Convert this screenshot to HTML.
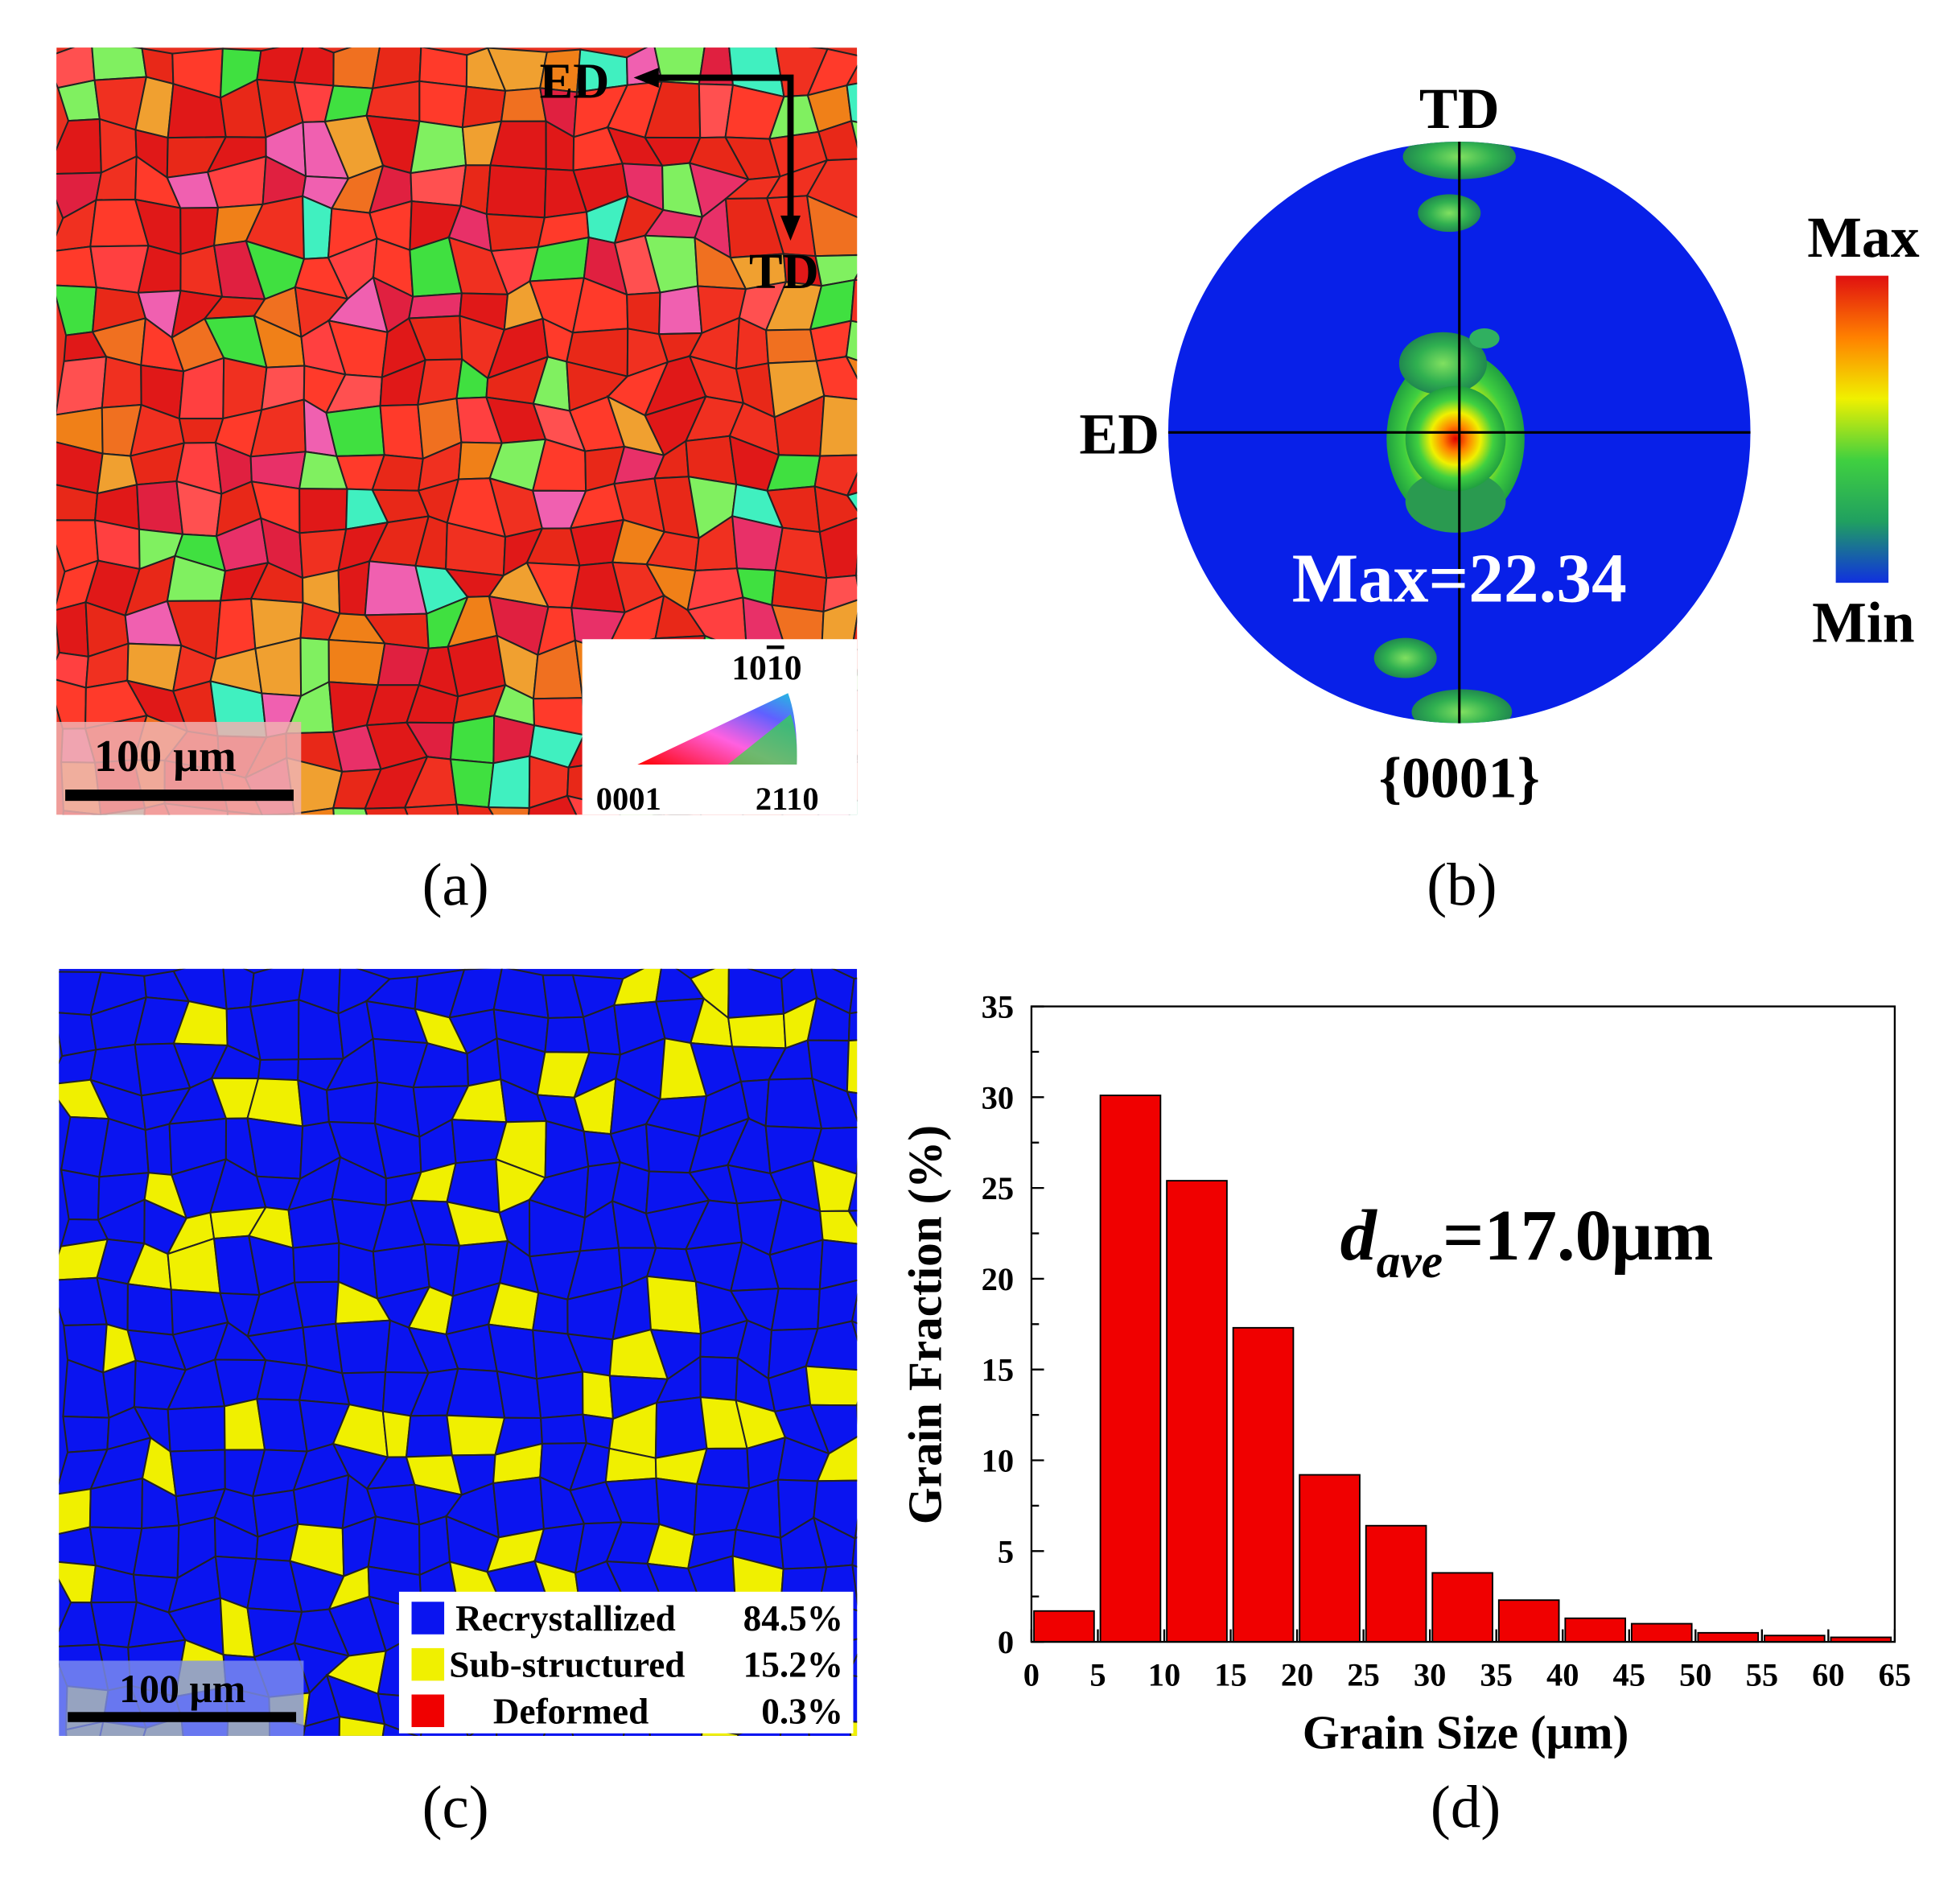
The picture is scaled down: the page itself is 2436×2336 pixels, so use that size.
<!DOCTYPE html>
<html><head><meta charset="utf-8">
<style>
html,body{margin:0;padding:0;background:#fff;}
svg{display:block;}
text{font-family:"Liberation Serif",serif;}
</style></head>
<body>
<svg id="s" width="2436" height="2336" viewBox="0 0 1562 1500" preserveAspectRatio="none" xmlns="http://www.w3.org/2000/svg">
<defs>
<radialGradient id="hot" cx="0.5" cy="0.5" r="0.5">
<stop offset="0" stop-color="#e00000"/><stop offset="0.25" stop-color="#ff8000"/><stop offset="0.5" stop-color="#f0f000"/><stop offset="0.75" stop-color="#40d040"/><stop offset="1" stop-color="#20a040"/>
</radialGradient>
<radialGradient id="grn" cx="0.5" cy="0.5" r="0.5">
<stop offset="0" stop-color="#80e060"/><stop offset="0.6" stop-color="#30b050"/><stop offset="1" stop-color="#208850"/>
</radialGradient>
<linearGradient id="cb" x1="0" y1="0" x2="0" y2="1">
<stop offset="0" stop-color="#e01010"/><stop offset="0.2" stop-color="#ff8000"/><stop offset="0.4" stop-color="#f0f000"/><stop offset="0.6" stop-color="#40d040"/><stop offset="0.8" stop-color="#20a060"/><stop offset="1" stop-color="#1030e0"/>
</linearGradient>
<linearGradient id="ipf" x1="0" y1="1" x2="1" y2="0">
<stop offset="0" stop-color="#ff0000"/><stop offset="0.45" stop-color="#ff60e0"/><stop offset="0.75" stop-color="#6060ff"/><stop offset="1" stop-color="#20c0e0"/>
</linearGradient>
<clipPath id="ca"><rect x="45" y="38" width="638" height="612"/></clipPath>
<clipPath id="cc"><rect x="47" y="773" width="636" height="612"/></clipPath>
<clipPath id="cp"><circle cx="1163" cy="345" r="232"/></clipPath>
</defs>
<g id="ga" clip-path="url(#ca)"><rect x="45" y="38" width="638" height="612" fill="#e83020"/></g>
<g id="gc" clip-path="url(#cc)"><rect x="47" y="773" width="636" height="612" fill="#0a14f0"/></g>

<g font-weight="bold" font-size="40">
<text x="430" y="78">ED</text>
<text x="597" y="230">TD</text>
</g>
<path d="M515 62 H630 V180" fill="none" stroke="#000" stroke-width="5"/>
<polygon points="505,62 525,54 525,70" fill="#000"/>
<polygon points="630,192 622,172 638,172" fill="#000"/>
<rect x="464" y="510" width="219" height="140" fill="#fff"/>
<path d="M508,610 L635,610 Q636,575 628,553 Z" fill="url(#ipf)"/>
<path d="M580,610 L635,610 Q636,585 630,570 Z" fill="#30e040" opacity="0.7"/>
<text x="583" y="542" font-size="28" font-weight="bold">10<tspan text-decoration="overline">1</tspan>0</text>
<text x="475" y="646" font-size="26" font-weight="bold">0001</text>
<text x="602" y="646" font-size="26" font-weight="bold">2110</text>
<rect x="45" y="576" width="195" height="74" fill="#f0b0b0" opacity="0.85"/>
<text x="75" y="615" font-size="36" font-weight="bold">100 μm</text>
<rect x="52" y="630" width="182" height="9" fill="#000"/>
<text x="363" y="722" font-size="48" text-anchor="middle">(a)</text>

<circle cx="1163" cy="345" r="232" fill="#0820e8"/>
<g clip-path="url(#cp)">
<ellipse cx="1160" cy="350" rx="55" ry="70" fill="url(#hot)"/>
<ellipse cx="1150" cy="290" rx="35" ry="25" fill="url(#grn)"/>
<ellipse cx="1160" cy="400" rx="40" ry="25" fill="#2a9a50"/>
<ellipse cx="1160" cy="350" rx="40" ry="42" fill="url(#hot)"/>
<ellipse cx="1163" cy="125" rx="45" ry="18" fill="url(#grn)"/>
<ellipse cx="1155" cy="170" rx="25" ry="15" fill="url(#grn)"/>
<ellipse cx="1183" cy="270" rx="12" ry="8" fill="#30b060"/>
<ellipse cx="1120" cy="525" rx="25" ry="16" fill="url(#grn)"/>
<ellipse cx="1165" cy="568" rx="40" ry="18" fill="url(#grn)"/>
</g>
<line x1="931" y1="345" x2="1395" y2="345" stroke="#000" stroke-width="2"/>
<line x1="1163" y1="113" x2="1163" y2="577" stroke="#000" stroke-width="2"/>
<g font-weight="bold">
<text x="1163" y="102" font-size="46" text-anchor="middle">TD</text>
<text x="924" y="362" font-size="46" text-anchor="end">ED</text>
<text x="1163" y="480" font-size="56" fill="#fff" text-anchor="middle">Max=22.34</text>
<text x="1163" y="636" font-size="46" text-anchor="middle">{0001}</text>
<text x="1485" y="205" font-size="46" text-anchor="middle">Max</text>
<text x="1485" y="512" font-size="46" text-anchor="middle">Min</text>
</g>
<rect x="1463" y="220" width="42" height="245" fill="url(#cb)"/>
<text x="1165" y="722" font-size="48" text-anchor="middle">(b)</text>

<rect x="318" y="1270" width="362" height="113" fill="#fff"/>
<rect x="328" y="1278" width="26" height="26" fill="#0a14f0"/>
<rect x="328" y="1315" width="26" height="26" fill="#f0f000"/>
<rect x="328" y="1352" width="26" height="26" fill="#f00000"/>
<g font-size="29" font-weight="bold">
<text x="363" y="1301">Recrystallized</text><text x="672" y="1301" text-anchor="end">84.5%</text>
<text x="358" y="1338">Sub-structured</text><text x="672" y="1338" text-anchor="end">15.2%</text>
<text x="393" y="1375">Deformed</text><text x="672" y="1375" text-anchor="end">0.3%</text>
</g>
<rect x="47" y="1325" width="195" height="60" fill="#8090f0" opacity="0.8"/>
<text x="95" y="1358" font-size="32" font-weight="bold">100 μm</text>
<rect x="54" y="1366" width="182" height="8" fill="#000"/>
<text x="363" y="1458" font-size="48" text-anchor="middle">(c)</text>

<g id="gd"></g>
<rect x="822" y="803" width="688" height="507" fill="none" stroke="#000" stroke-width="1.5"/>
<text transform="translate(750,1057) rotate(-90)" font-size="38" font-weight="bold" text-anchor="middle">Grain Fraction (%)</text>
<text x="1168" y="1395" font-size="38" font-weight="bold" text-anchor="middle">Grain Size (μm)</text>
<text x="1068" y="1005" font-size="58" font-weight="bold" font-style="italic">d<tspan font-size="38" dy="14">ave</tspan><tspan font-style="normal" dy="-14" font-size="58">=17.0μm</tspan></text>
<text x="1168" y="1458" font-size="48" text-anchor="middle">(d)</text>
</svg>
<script>
(function(){
var NS="http://www.w3.org/2000/svg";
var seed=7;function r(){seed=(seed*16807)%2147483647;return (seed-1)/2147483646;}
function poly(g,pts,fill,stroke,sw){var p=document.createElementNS(NS,"polygon");p.setAttribute("points",pts.map(function(a){return a[0].toFixed(1)+","+a[1].toFixed(1)}).join(" "));p.setAttribute("fill",fill);p.setAttribute("stroke",stroke);p.setAttribute("stroke-width",sw);g.appendChild(p);}
function grid(g,x0,y0,w,h,n,colorFn){
 var cs=w/n, rows=Math.ceil(h/cs)+1, P=[];
 for(var j=0;j<=rows;j++){P[j]=[];for(var i=0;i<=n+1;i++){P[j][i]=[x0+i*cs+(r()-0.5)*cs*0.6,y0+j*cs+(r()-0.5)*cs*0.6];}}
 for(var j=0;j<rows;j++)for(var i=0;i<=n;i++){
  var c=colorFn(P[j][i][0],P[j][i][1]);
  poly(g,[P[j][i],P[j][i+1],P[j+1][i+1],P[j+1][i]],c,"#222",1.3);
 }
}
var ca=["#e82818","#f03020","#e02040","#f07020","#f08018","#ff5050","#e83068","#f060b0","#40e040","#80f060","#40f0c0","#f0a030","#e01818","#ff4040"];
grid(document.getElementById("ga"),45,38,638,612,20,function(){var v=r();if(v<0.45)return ["#e82818","#f03020","#e01818","#ff3a2a"][Math.floor(r()*4)];return ca[Math.floor(r()*ca.length)];});
grid(document.getElementById("gc"),47,773,636,612,20,function(){return r()<0.16?"#f0f000":"#0a14f0";});
var gd=document.getElementById("gd");
var v=[1.7,30.1,25.4,17.3,9.2,6.4,3.8,2.3,1.3,1.0,0.5,0.35,0.25];
var X=function(x){return 822+x*688/65},Y=function(y){return 1310-y*507/35};
v.forEach(function(h,i){var e=document.createElementNS(NS,"rect");e.setAttribute("x",X(i*5)+2);e.setAttribute("width",X(5)-X(0)-5);e.setAttribute("y",Y(h));e.setAttribute("height",Y(0)-Y(h));e.setAttribute("fill","#f00000");e.setAttribute("stroke","#000");e.setAttribute("stroke-width","1.2");gd.appendChild(e);});
function t(x,y,s,a){var e=document.createElementNS(NS,"text");e.setAttribute("x",x);e.setAttribute("y",y);e.setAttribute("font-size","26");e.setAttribute("font-weight","bold");e.setAttribute("text-anchor",a);e.textContent=s;gd.appendChild(e);}
function l(x1,y1,x2,y2){var e=document.createElementNS(NS,"line");e.setAttribute("x1",x1);e.setAttribute("y1",y1);e.setAttribute("x2",x2);e.setAttribute("y2",y2);e.setAttribute("stroke","#000");e.setAttribute("stroke-width","1.5");gd.appendChild(e);}
for(var y=0;y<=35;y+=5){t(808,Y(y)+9,""+y,"end");l(822,Y(y),832,Y(y));}
for(var y=2.5;y<35;y+=5){l(822,Y(y),828,Y(y));}
for(var x=0;x<=65;x+=5){t(X(x),1345,""+x,"middle");l(X(x),1310,X(x),1300);}
})();
</script>
</body></html>
